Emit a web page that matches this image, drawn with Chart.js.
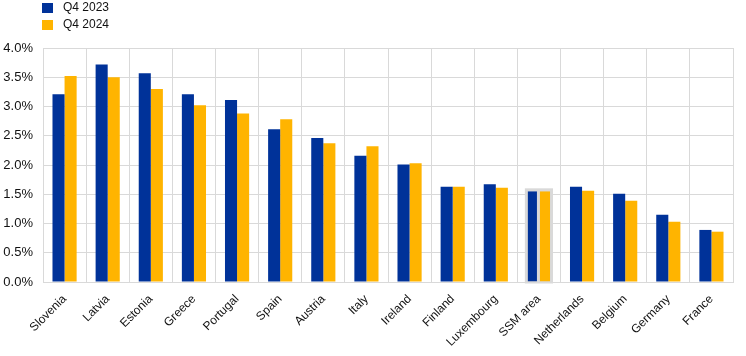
<!DOCTYPE html>
<html>
<head>
<meta charset="utf-8">
<script src="https://cdn.jsdelivr.net/npm/chart.js@4/dist/chart.umd.min.js"></script>
<style>
  html, body { margin: 0; padding: 0; background: #fff; }
  #wrap { position: relative; width: 746px; height: 356px; }
  #legend { position: absolute; left: 42px; top: 2px; font-family: "Liberation Sans", Arial, sans-serif; font-size: 12px; color: #111; }
  .li { height: 17px; line-height: 11px; display: flex; align-items: flex-start; }
  .sw { width: 11px; height: 10px; margin-top: 1px; margin-right: 10px; }
</style>
</head>
<body>
<div id="wrap">
  <canvas id="c" width="746" height="356"></canvas>
  <div id="legend"></div>
</div>
<script>
const categories = ["Slovenia", "Latvia", "Estonia", "Greece", "Portugal", "Spain", "Austria", "Italy", "Ireland", "Finland", "Luxembourg", "SSM area", "Netherlands", "Belgium", "Germany", "France"];
const seriesNames = ["Q4 2023", "Q4 2024"];
const q42023 = [3.21, 3.72, 3.57, 3.21, 3.11, 2.61, 2.46, 2.16, 2.01, 1.63, 1.67, 1.55, 1.63, 1.51, 1.15, 0.89];
const q42024 = [3.52, 3.50, 3.30, 3.02, 2.88, 2.78, 2.37, 2.32, 2.03, 1.63, 1.61, 1.55, 1.56, 1.39, 1.03, 0.86];
const yTicks = [0, 0.5, 1.0, 1.5, 2.0, 2.5, 3.0, 3.5, 4.0];
const highlightCategory = "SSM area";

const colors = ["#003299", "#FFB400"];
const gridColor = "#d9d9d9";
const hiIdx = categories.indexOf(highlightCategory);

const highlightPlugin = {
  id: 'highlight',
  beforeDatasetsDraw(chart) {
    const m0 = chart.getDatasetMeta(0).data[hiIdx];
    const m1 = chart.getDatasetMeta(1).data[hiIdx];
    if (!m0 || !m1) return;
    const ctx = chart.ctx;
    const left = m0.x - m0.width / 2 - 2;
    const right = m1.x + m1.width / 2 + 2;
    const top = Math.min(m0.y, m1.y) - 3;
    const bottom = m0.base + 2;
    ctx.save();
    ctx.fillStyle = gridColor;
    ctx.fillRect(left, top, right - left, bottom - top);
    ctx.restore();
  }
};

const chart = new Chart(document.getElementById('c'), {
  type: 'bar',
  data: {
    labels: categories,
    datasets: [
      { label: seriesNames[0], data: q42023, backgroundColor: colors[0],
        borderColor: gridColor,
        borderWidth: (c) => c.dataIndex === hiIdx ? {left: 1, right: 2, top: 0, bottom: 0} : 0 },
      { label: seriesNames[1], data: q42024, backgroundColor: colors[1],
        borderColor: gridColor,
        borderWidth: (c) => c.dataIndex === hiIdx ? {left: 1, right: 1, top: 0, bottom: 0} : 0 }
    ]
  },
  options: {
    responsive: false,
    animation: false,
    devicePixelRatio: 1,
    categoryPercentage: 0.56,
    barPercentage: 1.0,
    layout: { padding: { top: 48, right: 13, left: 0, bottom: 0 } },
    plugins: { legend: { display: false }, tooltip: { enabled: false } },
    scales: {
      x: {
        grid: { color: gridColor, lineWidth: 1, drawTicks: false, offset: true },
        border: { color: gridColor, width: 1 },
        ticks: {
          color: '#111', font: { family: '"Liberation Sans", Arial, sans-serif', size: 12 },
          minRotation: 45, maxRotation: 45, padding: 10, autoSkip: false
        },
        afterFit(s) { s.height = 74; }
      },
      y: {
        min: 0, max: 4,
        afterBuildTicks(s) { s.ticks = yTicks.map(v => ({ value: v })); },
        grid: { color: gridColor, lineWidth: 1, drawTicks: false },
        border: { display: false },
        ticks: {
          color: '#111', font: { family: '"Liberation Sans", Arial, sans-serif', size: 13 },
          padding: 10,
          callback: (v) => Number(v).toFixed(1) + '%'
        },
        afterFit(s) { s.width = 43; }
      }
    }
  },
  plugins: [highlightPlugin]
});

const lg = document.getElementById('legend');
chart.data.datasets.forEach((ds) => {
  const row = document.createElement('div');
  row.className = 'li';
  const sw = document.createElement('span');
  sw.className = 'sw';
  sw.style.background = ds.backgroundColor;
  const tx = document.createElement('span');
  tx.textContent = ds.label;
  row.appendChild(sw); row.appendChild(tx);
  lg.appendChild(row);
});
</script>
</body>
</html>
